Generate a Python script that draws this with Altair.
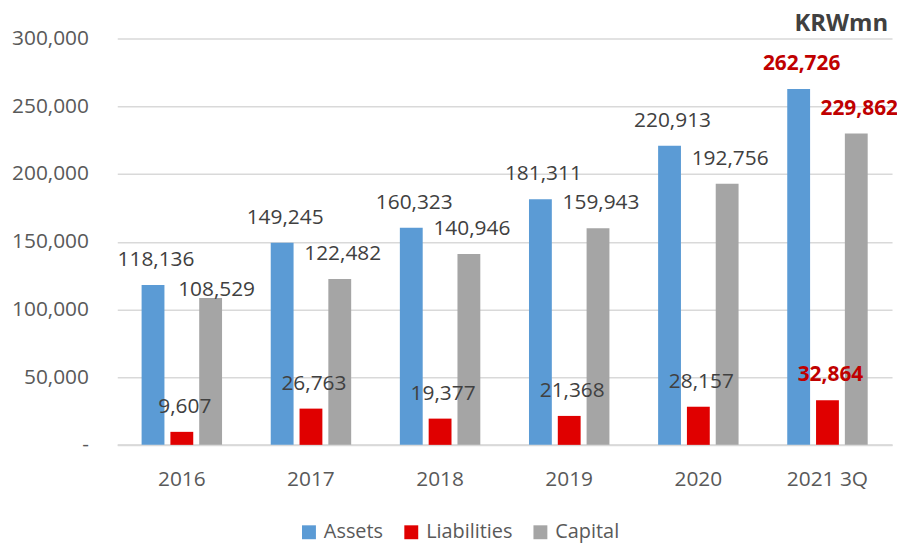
import altair as alt
import pandas as pd

years = ["2016", "2017", "2018", "2019", "2020", "2021 3Q"]
series = ["Assets", "Liabilities", "Capital"]
assets = [118136, 149245, 160323, 181311, 220913, 262726]
liabilities = [9607, 26763, 19377, 21368, 28157, 32864]
capital = [108529, 122482, 140946, 159943, 192756, 229862]
colors = ["#5B9BD5", "#E00000", "#A5A5A5"]
y_ticks = [0, 50000, 100000, 150000, 200000, 250000, 300000]

rows = []
for name, vals in zip(series, [assets, liabilities, capital]):
    for yr, v in zip(years, vals):
        rows.append({"year": yr, "series": name, "value": v})
df = pd.DataFrame(rows)

FONT = "Open Sans"

x = alt.X("year:N", sort=years,
          scale=alt.Scale(paddingInner=0, paddingOuter=0),
          axis=alt.Axis(title=None, labelAngle=0, labelFontSize=21, labelFont=FONT,
                        labelColor="#595959", ticks=False, domainColor="#D9D9D9",
                        domainWidth=2, labelPadding=24))
y = alt.Y("value:Q",
          scale=alt.Scale(domain=[0, 300000], nice=False),
          axis=alt.Axis(title=None, values=y_ticks, grid=True, gridColor="#D9D9D9",
                        gridWidth=1.5, domain=False, ticks=False, labelPadding=29,
                        labelFontSize=21, labelFont=FONT, labelColor="#595959",
                        labelExpr="datum.value == 0 ? '-' : format(datum.value, ',')"))
xo = alt.XOffset("series:N", sort=series,
                 scale=alt.Scale(domain=series, paddingInner=0.207, paddingOuter=0.845))
color = alt.Color("series:N", sort=series,
                  scale=alt.Scale(domain=series, range=colors),
                  legend=alt.Legend(title=None, orient="none", legendX=183, legendY=487,
                                    direction="horizontal", symbolType="square",
                                    symbolSize=196, symbolStrokeWidth=0,
                                    labelFontSize=20, labelFont=FONT, labelColor="#595959",
                                    columnPadding=18, labelOffset=5, padding=0))

base = alt.Chart(df)
bars = base.mark_bar().encode(x=x, xOffset=xo, y=y, color=color)

txt = alt.Text("value:Q", format=",")
normal = base.mark_text(dy=-25, dx=3, baseline="middle", fontSize=21, font=FONT,
                        color="#404040").encode(x=x, xOffset=xo, y=y, text=txt).transform_filter(
    "datum.year != '2021 3Q' && !(datum.year == '2016' && datum.series == 'Capital')")
moved = base.mark_text(dy=-8, dx=6, baseline="middle", fontSize=21, font=FONT,
                       color="#404040").encode(x=x, xOffset=xo, y=y, text=txt).transform_filter(
    "datum.year == '2016' && datum.series == 'Capital'")
red = base.mark_text(dy=-25, dx=3, baseline="middle", fontSize=21, font=FONT,
                     fontWeight="bold", color="#C00000").encode(
    x=x, xOffset=xo, y=y, text=txt).transform_filter("datum.year == '2021 3Q'")

chart = alt.layer(bars, normal, moved, red).properties(
    width=780, height=409,
    title=alt.TitleParams("KRWmn", anchor="end", fontSize=24, font=FONT, fontWeight="bold",
                          color="#404040", offset=-8, dx=-10),
    autosize="none",
    padding={"left": 110, "top": 29, "right": 5, "bottom": 97},
).configure_view(stroke=None)

chart.save("out.html", embed_options={"renderer": "svg", "actions": False})
